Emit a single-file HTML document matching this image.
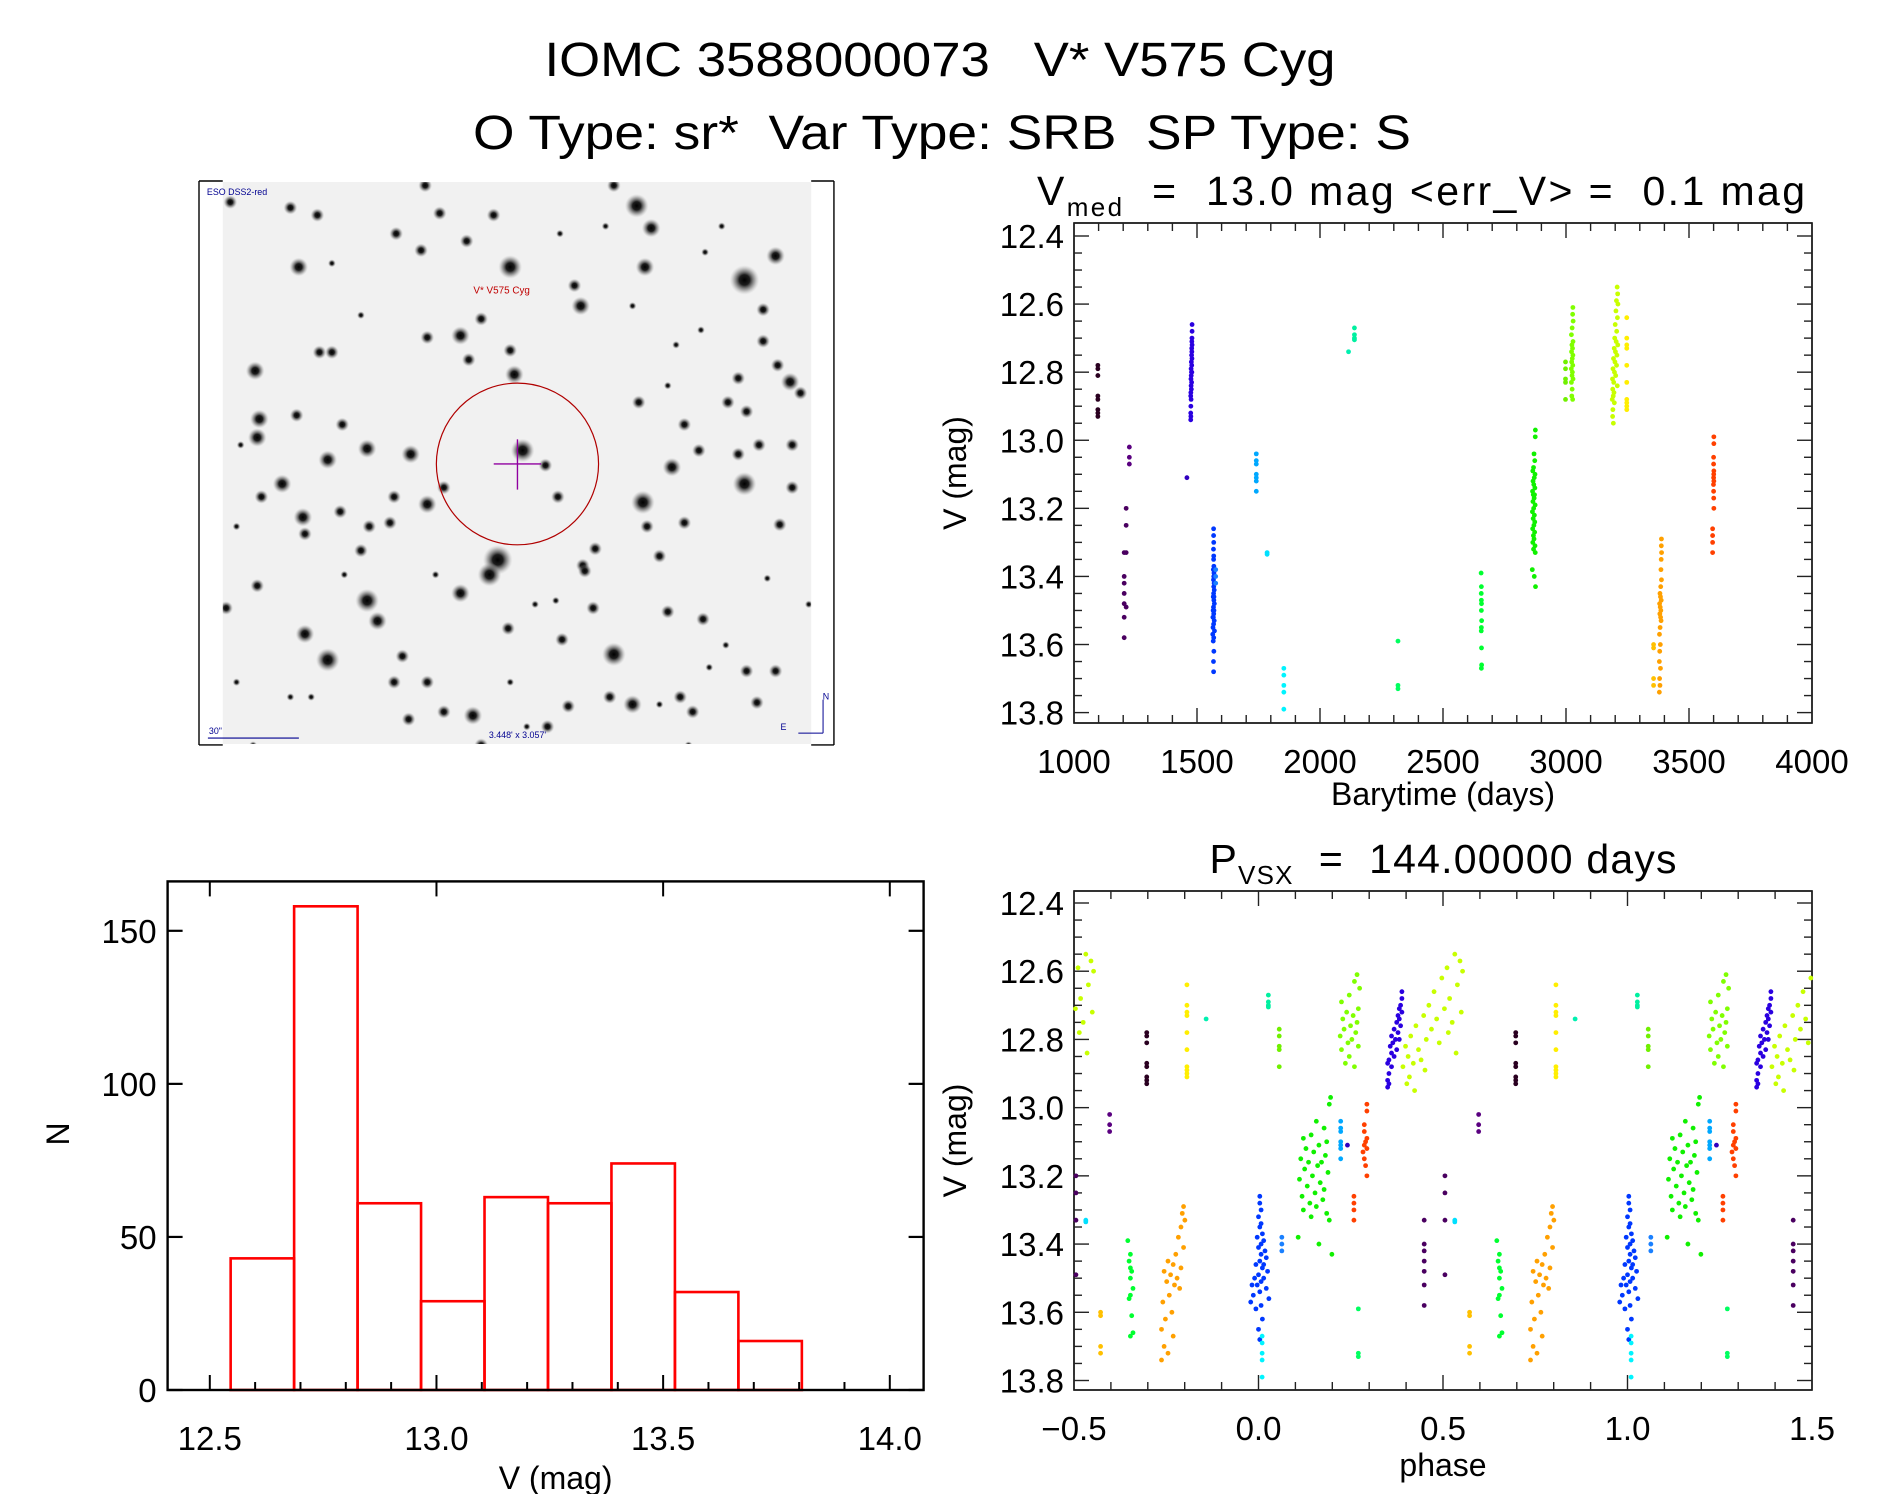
<!DOCTYPE html>
<html><head><meta charset="utf-8"><style>
html,body{margin:0;padding:0;background:#fff;}
svg{display:block;font-family:"Liberation Sans",sans-serif;}
text{white-space:pre;}
</style></head><body>
<svg id="fig" width="1889" height="1494" viewBox="0 0 1889 1494" xmlns="http://www.w3.org/2000/svg" xml:space="preserve">
<text x="940" y="76" text-anchor="middle" font-size="48" textLength="791" lengthAdjust="spacingAndGlyphs">IOMC 3588000073   V* V575 Cyg</text>
<text x="942" y="149" text-anchor="middle" font-size="48" textLength="938" lengthAdjust="spacingAndGlyphs">O Type: sr*  Var Type: SRB  SP Type: S</text>
<g id="img" transform="translate(199,181) scale(0.989,0.986) translate(-199,-181)"></g>
<g id="lc"></g>
<g id="ph"></g>
<g id="hist"></g>
</svg>
<script>
// ---- histogram data ----
const histEdgeStart = 12.546;
const histBinWidth = 0.14;
const histCounts = [43,158,61,29,63,61,74,32,16];
const histXTicks = [12.5,13.0,13.5,14.0];
const histXTickLabels = ["12.5","13.0","13.5","14.0"];
const histYTicks = [0,50,100,150];
const histYTickLabels = ["0","50","100","150"];
// ---- light curve data ----
const lcXTicks = [1000,1500,2000,2500,3000,3500,4000];
const lcXTickLabels = ["1000","1500","2000","2500","3000","3500","4000"];
const magTicks = [12.4,12.6,12.8,13.0,13.2,13.4,13.6,13.8];
const magTickLabels = ["12.4","12.6","12.8","13.0","13.2","13.4","13.6","13.8"];
const phXTicks = [-0.5,0,0.5,1.0,1.5];
const phXTickLabels = ["\u22120.5","0.0","0.5","1.0","1.5"];
const foldPeriod = 142.3;
const foldEpoch = 1567;
const seriesNames = ["black","purpleA","purpleB","indigo","indigoOne","blue","blueExtra","sky","cyanMid","cyanLow","teal","tealOne","springGreen","greenA","greenB","limeA","limeB","yellowGreen","yellow","orange","amber","red"];
const seriesColors = ["#2a0020","#5a0080","#4a0060","#2a00e0","#3000c0","#0038ff","#1a80ff","#00a8ff","#00e0ff","#00f4ff","#00f0a0","#00f0b0","#00ff60","#00ff30","#10f000","#80ff00","#70f000","#c8ff00","#ffee00","#ffa000","#ffc000","#ff4000"];
const tBlack=[1097,1097,1097,1097,1097,1097,1097,1097];
const vBlack=[12.78,12.79,12.81,12.87,12.88,12.91,12.92,12.93];
const tPurpleA=[1225,1225,1225];
const vPurpleA=[13.02,13.05,13.07];
const tPurpleB=[1212,1212,1212,1212,1204,1204,1204,1204,1204,1204,1204];
const vPurpleB=[13.20,13.25,13.33,13.49,13.33,13.40,13.42,13.45,13.48,13.52,13.58];
const tIndigo=[1480,1480,1479.5,1479,1480,1478.5,1479,1478,1479.5,1477,1478.5,1476,1477.5,1479,1476.5,1475.5,1478,1476,1477,1475,1474.5,1476,1475,1474.5,1475,1474.5];
const vIndigo=[12.66,12.68,12.70,12.71,12.72,12.73,12.74,12.75,12.76,12.77,12.78,12.79,12.80,12.80,12.81,12.82,12.83,12.84,12.85,12.86,12.87,12.88,12.90,12.92,12.93,12.94];
const tIndigoOne=[1459];
const vIndigoOne=[13.11];
const tBlue=[1567.5,1567.5,1568,1567,1568,1567.5,1568.5,1566.5,1569,1568,1567,1569.5,1568,1570,1567.5,1569,1566,1568.5,1570.5,1567,1565.5,1569,1568,1566.5,1564.5,1570,1567.5,1565,1571,1564,1568,1566,1568.5,1567,1567.5];
const vBlue=[13.26,13.28,13.30,13.32,13.34,13.35,13.37,13.38,13.39,13.40,13.41,13.42,13.43,13.44,13.45,13.46,13.46,13.47,13.48,13.49,13.50,13.50,13.51,13.52,13.52,13.53,13.54,13.55,13.56,13.57,13.58,13.59,13.62,13.65,13.68];
const tBlueExtra=[1576,1576,1576];
const vBlueExtra=[13.38,13.40,13.42];
const tSky=[1741,1741,1741,1741,1741,1741,1741];
const vSky=[13.04,13.06,13.07,13.10,13.11,13.12,13.15];
const tCyanMid=[1785,1785];
const vCyanMid=[13.33,13.335];
const tCyanLow=[1853,1853,1853,1853,1853];
const vCyanLow=[13.67,13.69,13.72,13.74,13.79];
const tTeal=[2140,2140,2140,2140];
const vTeal=[12.67,12.69,12.70,12.705];
const tTealOne=[2116];
const vTealOne=[12.74];
const tSpring=[2317,2317,2317];
const vSpring=[13.59,13.72,13.73];
const tGreenA=[2655,2656,2655.5,2656,2656.5,2656,2657,2656,2655.5,2656.5,2657,2656];
const vGreenA=[13.39,13.43,13.45,13.47,13.48,13.50,13.53,13.55,13.56,13.61,13.66,13.67];
const tGreenB=[2875.5,2875,2870,2873,2868,2865,2874,2871,2866,2869,2873.5,2864,2867,2872,2870.5,2865.5,2874.5,2868.5,2863.5,2871.5,2866.5,2873,2869.5,2864.5,2872.5,2867.5,2870,2865,2874,2868,2875,2863,2871,2876];
const vGreenB=[12.97,12.99,13.04,13.06,13.08,13.09,13.10,13.11,13.12,13.13,13.14,13.15,13.16,13.16,13.17,13.18,13.19,13.20,13.21,13.22,13.23,13.24,13.25,13.26,13.27,13.28,13.29,13.30,13.31,13.32,13.33,13.38,13.40,13.43];
const tLimeA=[3028,3027,3029,3025,3022,3028.5,3024,3026.5,3022.5,3028,3025.5,3023,3027.5,3021.5,3026,3024.5,3028.5,3022,3025,3023.5,3027];
const vLimeA=[12.61,12.63,12.65,12.67,12.69,12.71,12.72,12.73,12.74,12.75,12.76,12.77,12.78,12.79,12.80,12.81,12.82,12.83,12.85,12.87,12.88];
const tLimeB=[2998,2998,2998,2998,2998];
const vLimeB=[12.77,12.79,12.82,12.83,12.88];
const tYG=[3208,3210,3205,3211,3203,3209,3200,3206,3198,3204,3210.5,3196,3201,3207,3193,3199,3205.5,3191,3197,3202,3189,3194,3208.5,3190,3195,3192,3188,3196.5,3190.5,3189.5,3192.5];
const vYG=[12.55,12.57,12.59,12.60,12.62,12.64,12.66,12.68,12.70,12.71,12.72,12.73,12.74,12.75,12.76,12.77,12.78,12.79,12.80,12.81,12.82,12.83,12.84,12.85,12.86,12.87,12.88,12.89,12.91,12.93,12.95];
const tYellow=[3247,3247,3247,3247,3247,3247,3247,3247,3247,3247];
const vYellow=[12.64,12.70,12.72,12.73,12.78,12.83,12.88,12.89,12.90,12.91];
const tOrange=[3388,3387.5,3388.5,3387,3386,3388,3385,3382,3384,3387,3380.5,3383,3385.5,3381.5,3384.5,3386.5,3382.5,3380,3383.5,3381,3379.5,3384,3380.5,3382,3379.5];
const vOrange=[13.29,13.31,13.33,13.35,13.38,13.41,13.43,13.45,13.46,13.47,13.48,13.49,13.50,13.51,13.52,13.53,13.55,13.57,13.60,13.62,13.65,13.67,13.70,13.72,13.74];
const tAmber=[3356,3356,3356,3356];
const vAmber=[13.60,13.61,13.70,13.72];
const tRed=[3601,3601,3600,3600,3601,3600.5,3600,3601,3599.5,3600,3600.5,3601,3596,3596,3596,3596];
const vRed=[12.99,13.01,13.05,13.07,13.09,13.10,13.11,13.12,13.13,13.15,13.17,13.20,13.26,13.28,13.30,13.33];
const seriesT=[tBlack,tPurpleA,tPurpleB,tIndigo,tIndigoOne,tBlue,tBlueExtra,tSky,tCyanMid,tCyanLow,tTeal,tTealOne,tSpring,tGreenA,tGreenB,tLimeA,tLimeB,tYG,tYellow,tOrange,tAmber,tRed];
const seriesV=[vBlack,vPurpleA,vPurpleB,vIndigo,vIndigoOne,vBlue,vBlueExtra,vSky,vCyanMid,vCyanLow,vTeal,vTealOne,vSpring,vGreenA,vGreenB,vLimeA,vLimeB,vYG,vYellow,vOrange,vAmber,vRed];

const NS="http://www.w3.org/2000/svg";
function mk(parent,tag,attrs){const e=document.createElementNS(NS,tag);for(const k in attrs)e.setAttribute(k,attrs[k]);parent.appendChild(e);return e;}
function line(g,x1,y1,x2,y2,w,c){const l=mk(g,'line',{x1:x1,y1:y1,x2:x2,y2:y2,stroke:c||'#000','stroke-width':w||1.6});

return l;}
function txt(g,x,y,s,size,anchor,name){const t=mk(g,'text',{x:x,y:y,'font-size':size,'text-anchor':anchor||'middle'});t.textContent=s;

return t;}

// ---------- magnitude plots ----------
function magPlot(g,L,R,T,B,y124,y138,xmin,xmax,xTicks,xLabels,xMinorStep,xlabel,xlabOff){
  const sx=v=>L+(v-xmin)/(xmax-xmin)*(R-L);
  const sy=m=>y124+(m-12.4)/1.4*(y138-y124);
  const fr=mk(g,'rect',{x:L,y:T,width:R-L,height:B-T,fill:'none',stroke:'#000','stroke-width':1.6});
  
  
  for(let v=xmin;v<=xmax+1e-9;v+=xMinorStep){const x=sx(v);const major=xTicks.some(t=>Math.abs(t-v)<1e-6);const len=major?15:8;
    line(g,x,B,x,B-len,1.4,'#222');line(g,x,T,x,T+len,1.4,'#222');}
  for(let m=12.4;m<=13.8+1e-9;m+=0.05){const y=sy(m);const major=magTicks.some(t=>Math.abs(t-m)<1e-6);const len=major?15:8;
    line(g,L,y,L+len,y,1.4,'#222');line(g,R,y,R-len,y,1.4,'#222');}
  magTicks.forEach((m,i)=>txt(g,L-10,sy(m)+12,magTickLabels[i],33,'end','y-tick-label'));
  xTicks.forEach((v,i)=>txt(g,sx(v),B+50,xLabels[i],33,'middle','x-tick-label'));
  txt(g,(L+R)/2,B+xlabOff,xlabel,32,'middle','x-axis-title');
  const yl=txt(g,0,0,'V (mag)',32,'middle','y-axis-title');
  yl.setAttribute('transform','translate('+(L-108)+','+((T+B)/2)+') rotate(-90)');
  return {sx,sy};
}
// light curve
const lc=document.getElementById('lc');
const A=magPlot(lc,1074,1812,223,723,236,712.6,1000,4000,lcXTicks,lcXTickLabels,100,'Barytime (days)',82);
const t1=txt(lc,1421,205,'',41,'middle','light-curve-title');
t1.innerHTML='V<tspan font-size="26" dy="11">med</tspan><tspan dy="-11">  =  13.0 mag &lt;err_V&gt; =  0.1 mag</tspan>';
t1.setAttribute('textLength','768');
seriesT.forEach((ts,si)=>{ts.forEach((t,i)=>{
  const c=mk(lc,'circle',{cx:A.sx(t),cy:A.sy(seriesV[si][i]),r:2.4,fill:seriesColors[si]});
  
  
});});
// phase plot
const ph=document.getElementById('ph');
const P=magPlot(ph,1074,1812,891,1390,903,1380.5,-0.5,1.5,phXTicks,phXTickLabels,0.1,'phase',86);
const t2=txt(ph,1443,873,'',41,'middle','phase-plot-title');
t2.innerHTML='P<tspan font-size="26" dy="11">VSX</tspan><tspan dy="-11">  =  144.00000 days</tspan>';
t2.setAttribute('textLength','467');
seriesT.forEach((ts,si)=>{ts.forEach((t,i)=>{
  let f=((t-foldEpoch)/foldPeriod)%1; if(f<0)f+=1;
  [f-1,f,f+1].forEach(p=>{ if(p<-0.5||p>1.5) return;
    const c=mk(ph,'circle',{cx:P.sx(p),cy:P.sy(seriesV[si][i]),r:2.4,fill:seriesColors[si]});
    
    
  });
});});

// ---------- histogram ----------
(function(){
  const g=document.getElementById('hist');
  const L=167.6,R=923.6,T=881.4,B=1390;
  const x125=209.8,x140=889.8,y150=930.8;
  const sx=v=>x125+(v-12.5)/1.5*(x140-x125);
  const sy=n=>B-n/150*(B-y150);
  histCounts.forEach((n,i)=>{const x0=sx(histEdgeStart+i*histBinWidth),x1=sx(histEdgeStart+(i+1)*histBinWidth);
    const r=mk(g,'rect',{x:x0,y:sy(n),width:x1-x0,height:B-sy(n),fill:'none',stroke:'#ff0000','stroke-width':2.6});
    
    });
  const fr=mk(g,'rect',{x:L,y:T,width:R-L,height:B-T,fill:'none',stroke:'#000','stroke-width':2.4});
  
  
  for(let v=12.5;v<=14.0+1e-9;v+=0.1){const x=sx(v);const major=histXTicks.some(t=>Math.abs(t-v)<1e-6);
    line(g,x,B,x,B-(major?15:8),2);if(major)line(g,x,T,x,T+15,2);}
  histYTicks.forEach((n,i)=>{const y=sy(n);line(g,L,y,L+15,y,2.2);line(g,R,y,R-15,y,2.2);
    txt(g,L-11,y+12,histYTickLabels[i],33,'end','y-tick-label');});
  histXTicks.forEach((v,i)=>txt(g,sx(v),B+60,histXTickLabels[i],33,'middle','x-tick-label'));
  txt(g,(L+R)/2+10,B+99,'V (mag)',32,'middle','x-axis-title');
  const yl=txt(g,0,0,'N',32,'middle','y-axis-title');
  yl.setAttribute('transform','translate(69,1134) rotate(-90)');
})();

// ---------- finder image ----------
(function(){
  const g=document.getElementById('img');
  const X0=223,X1=818,Y0=182,Y1=752;
  const defs=mk(g,'defs',{});
  const rg=mk(defs,'radialGradient',{id:'star'});
  mk(rg,'stop',{offset:'0','stop-color':'#000','stop-opacity':'1'});
  mk(rg,'stop',{offset:'0.35','stop-color':'#111','stop-opacity':'0.95'});
  mk(rg,'stop',{offset:'0.7','stop-color':'#555','stop-opacity':'0.45'});
  mk(rg,'stop',{offset:'1','stop-color':'#aaa','stop-opacity':'0'});
  const cp=mk(defs,'clipPath',{id:'imgclip'});mk(cp,'rect',{x:X0,y:Y0,width:X1-X0,height:Y1-Y0});
  const bg=mk(g,'rect',{x:X0,y:Y0,width:X1-X0,height:Y1-Y0,fill:'#f1f1f1'});
  
  
  const sg=mk(g,'g',{'clip-path':'url(#imgclip)'});
  const S=[[1065,75,3],[1100,135,2],[1325,275,4],[1400,210,2],[760,240,3],[250,240,2],[145,520,2],[720,100,1],[590,95,1],[485,150,1],[655,170,1],[545,195,1],[915,290,1],[930,345,2],[1085,240,2],[690,380,1],[640,425,2],[560,430,1],[770,530,2],[660,490,1],[155,650,2],[150,700,2],[245,640,1],[355,665,1],[415,730,2],[320,760,2],[520,745,2],[210,825,2],[160,860,1],[350,900,1],[260,915,2],[265,960,1],[560,880,2],[600,835,1],[790,735,3],[845,775,1],[875,860,1],[1070,605,1],[1180,665,1],[1150,780,2],[1080,875,3],[1310,745,1],[1325,825,3],[1440,720,1],[1440,835,1],[1435,550,2],[1405,505,1],[1370,440,1],[1410,935,1],[730,1030,4],[710,1070,3],[400,1005,1],[965,1000,1],[1120,1020,1],[935,1045,1],[415,1140,3],[440,1195,2],[640,1120,2],[265,1230,2],[320,1300,3],[500,1290,1],[755,1215,1],[885,1245,1],[960,1160,1],[1010,1285,3],[1140,1170,1],[1225,1190,1],[1055,1420,2],[1200,1440,1],[670,1450,2],[515,1460,1],[900,1425,1],[1355,1415,1],[1400,1330,1],[150,1100,1],[75,1160,1],[230,80,1],[295,100,1],[85,65,1],[1370,355,1],[1310,540,1],[1285,605,1],[1215,735,1],[1000,1400,1],[850,1480,1],[600,1440,1],[420,940,1],[470,930,1],[480,860,1],[1090,940,1],[1180,930,1],[555,20,1],[1010,20,1],[300,470,1],[330,470,1],[760,465,1],[1330,630,1],[1460,580,1],[1360,720,1],[1170,1400,1],[1330,1330,1],[560,1360,1],[480,1360,1],[940,1060,1],[1480,1150,0],[880,150,0],[400,370,0],[330,230,0],[1270,130,0],[1230,200,0],[990,130,0],[1160,450,0],[1220,410,0],[1055,345,0],[1140,560,0],[1380,1080,0],[1240,1320,0],[1280,1260,0],[1120,1420,0],[280,1400,0],[230,1400,0],[100,1360,0],[100,940,0],[110,720,0],[360,1070,0],[580,1070,0],[820,1150,0],[870,1140,0],[760,1360,0],[800,1480,0],[690,1530,1],[140,1530,0],[1190,1530,0]];
  const rad=[4,7,9.5,12,15];
  S.forEach(s=>{const c=mk(sg,'circle',{cx:195+s[0]/2.385,cy:178+s[1]/2.66,r:rad[s[2]],fill:'url(#star)'});
    
    });
  const fc='#000';
  [[199,181,199,753],[841,181,841,753],[199,181,223,181],[199,753,223,753],[818,181,841,181],[818,753,841,753]].forEach(a=>{
    const l=mk(g,'line',{x1:a[0],y1:a[1],x2:a[2],y2:a[3],stroke:fc,'stroke-width':1.4});
    
    });
  const circ=mk(g,'circle',{cx:521,cy:468,r:82,fill:'none',stroke:'#b00000','stroke-width':1.2});
  
  
  [[497,468,545,468],[521,443,521,494]].forEach(a=>{const l=mk(g,'line',{x1:a[0],y1:a[1],x2:a[2],y2:a[3],stroke:'#9000a0','stroke-width':1.4});
    
    });
  const lab=txt(g,505,295,'V* V575 Cyg',10,'middle','target-label');lab.setAttribute('fill','#c00000');
  const e1=txt(g,207,195,'ESO DSS2-red',9,'start','survey-label');e1.setAttribute('fill','#000090');
  const e2=txt(g,209,742,'30"',9,'start','scale-label');e2.setAttribute('fill','#000090');
  const sl=mk(g,'line',{x1:208,y1:746,x2:300,y2:746,stroke:'#000090','stroke-width':1.2});
  
  
  const e3=txt(g,521,746,"3.448' x 3.057'",9,'middle','field-size-label');e3.setAttribute('fill','#000090');
  [[830,741,830,707],[805,741,830,741]].forEach(a=>{const l=mk(g,'line',{x1:a[0],y1:a[1],x2:a[2],y2:a[3],stroke:'#000090','stroke-width':1});
    
    });
  const n=txt(g,833,707,'N',9,'middle','compass-n');n.setAttribute('fill','#000090');
  const e=txt(g,790,738,'E',9,'middle','compass-e');e.setAttribute('fill','#000090');
})();
</script>
</body></html>
